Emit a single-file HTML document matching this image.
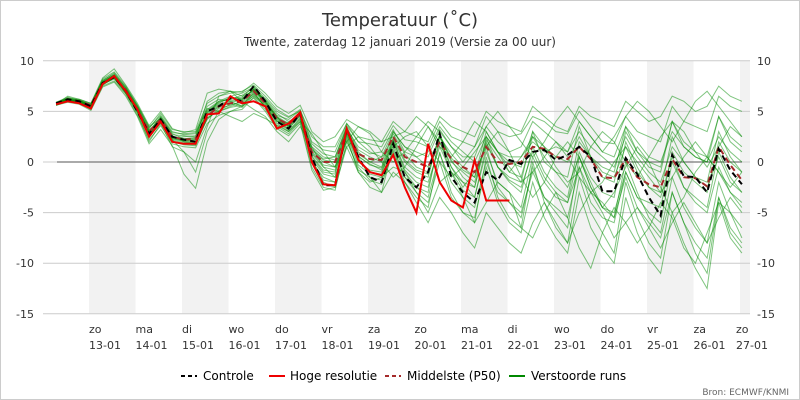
<!DOCTYPE html>
<html><head><meta charset="utf-8"><style>
body{margin:0;background:#fff}
svg{display:block;font-family:"DejaVu Sans","Liberation Sans",sans-serif}
</style></head><body>
<svg id="c" width="800" height="400">
<rect x="0.5" y="0.5" width="799" height="399" fill="#fff" stroke="#ccc"/>
<g id="bands"></g><g id="grid"></g><g id="members"></g><g id="main"></g><g id="axes"></g>
<text x="400" y="26" text-anchor="middle" font-size="18" fill="#333">Temperatuur (˚C)</text>
<text x="400" y="46" text-anchor="middle" font-size="12" fill="#333">Twente, zaterdag 12 januari 2019 (Versie za 00 uur)</text>
<g font-size="12" fill="#000">
<g><line x1="181" y1="376" x2="197" y2="376" stroke="#000" stroke-width="2" stroke-dasharray="4,3"/><text x="203" y="380">Controle</text></g>
<g><line x1="269" y1="376" x2="285" y2="376" stroke="#e00" stroke-width="2"/><text x="290" y="380">Hoge resolutie</text></g>
<g><line x1="385" y1="376" x2="401" y2="376" stroke="#a52a2a" stroke-width="2" stroke-dasharray="4,3"/><text x="407" y="380">Middelste (P50)</text></g>
<g><line x1="509" y1="376" x2="525" y2="376" stroke="#080" stroke-width="2"/><text x="531" y="380">Verstoorde runs</text></g>
</g>
<text x="789" y="395" text-anchor="end" font-size="9" fill="#666">Bron: ECMWF/KNMI</text>
</svg>
<script>
const yTicks=[10,5,0,-5,-10,-15];
const dayNames=["zo","ma","di","wo","do","vr","za","zo","ma","di","wo","do","vr","za","zo"];
const dayDates=["13-01","14-01","15-01","16-01","17-01","18-01","19-01","20-01","21-01","22-01","23-01","24-01","25-01","26-01","27-01"];
const startHour=7, stepHours=6;
const controle=[5.8,6.2,6.0,5.5,7.8,8.4,7.0,5.0,2.8,4.2,2.5,2.2,2.0,5.0,5.5,6.3,6.0,7.5,6.0,4.0,3.3,4.8,0.5,-2.3,-2.3,3.2,0.5,-1.5,-2.0,1.8,-1.5,-2.5,-1.0,2.8,-1.5,-3.0,-4.0,-1.0,-1.8,0.2,-0.2,1.0,1.2,0.2,0.7,1.5,0.5,-2.9,-2.9,0.4,-1.2,-3.5,-5.3,0.7,-1.4,-1.5,-3.0,1.3,-0.8,-2.2];
const hires=[5.7,6.0,5.8,5.3,7.7,8.5,7.0,5.2,2.5,4.0,2.0,1.8,1.8,4.7,4.8,6.5,5.8,6.0,5.5,3.3,3.8,4.9,0.0,-2.2,-2.3,3.3,0.2,-1.0,-1.3,0.7,-2.5,-5.0,1.8,-2.0,-3.8,-4.5,0.2,-3.8,-3.8,-3.8];
const p50=[5.8,6.2,6.0,5.6,7.8,8.4,7.1,5.2,3.0,4.2,2.5,2.2,2.3,4.5,5.5,5.8,6.0,7.0,5.8,4.3,3.7,4.7,1.0,0.0,0.0,3.0,0.8,0.3,0.2,2.5,0.5,0.0,-0.5,2.0,0.3,-0.5,-1.0,1.5,0.0,-0.2,0.0,1.5,1.3,0.5,0.3,1.5,0.3,-1.5,-1.6,0.3,-1.5,-2.2,-2.5,0.3,-1.5,-1.6,-2.4,1.5,-0.3,-1.8];
const m1=[5.9,6.4,6.1,5.7,8.0,8.8,7.3,5.6,3.4,4.6,3.0,2.7,2.8,5.2,6.0,6.5,6.8,7.4,6.3,5.0,4.4,5.2,2.0,1.2,1.0,3.8,2.0,1.8,1.5,3.6,2.2,2.0,1.5,4.0,2.5,2.0,1.5,4.5,3.0,2.5,2.8,4.5,4.0,3.0,2.8,5.0,3.5,2.0,1.8,4.5,3.0,2.5,2.0,5.5,4.0,3.5,3.0,6.5,5.5,5.0];
const m2=[5.6,6.0,5.8,5.2,7.5,8.0,6.7,4.6,2.2,3.6,1.8,1.5,1.4,3.8,4.6,5.0,5.2,6.4,5.2,3.5,2.8,4.0,-0.5,-2.5,-2.8,2.0,-0.5,-1.8,-2.2,1.0,-2.0,-3.5,-4.5,1.0,-3.0,-5.0,-6.0,0.5,-3.5,-5.5,-6.5,0.0,-4.0,-6.5,-8.0,-1.5,-5.0,-7.0,-9.0,-2.0,-5.5,-8.0,-9.5,-3.0,-6.0,-9.0,-11.0,-3.5,-7.0,-8.5];
const m3=[5.7,6.1,6.0,5.5,7.9,8.6,7.0,5.0,2.6,4.4,2.6,2.0,1.9,5.0,5.8,6.4,6.2,7.2,6.0,4.5,3.2,4.8,1.5,0.5,0.2,3.5,1.2,0.5,0.0,2.8,0.8,-0.5,-1.0,2.5,0.2,-1.5,-2.5,2.0,-0.5,-2.0,-3.0,1.5,-1.0,-2.5,-3.5,2.0,0.5,-1.5,-2.0,3.0,1.0,-0.5,-1.0,4.0,2.0,1.0,0.5,4.5,2.5,1.5];
const m4=[5.8,6.3,5.9,5.4,7.6,8.3,6.9,5.3,3.2,4.0,2.4,2.5,2.6,5.5,6.2,6.0,5.5,6.8,5.5,4.0,3.9,4.5,0.5,-1.0,-1.2,2.8,0.0,-0.8,-1.0,2.0,-0.5,-1.5,-2.0,1.5,-1.0,-2.8,-3.5,1.0,-2.0,-3.0,-4.5,0.5,-2.0,-3.5,-4.0,1.0,-1.5,-3.0,-3.5,2.0,-0.5,-2.5,-3.0,2.5,0.0,-1.5,-2.0,3.0,0.5,-1.0];
const m5=[5.9,6.2,6.1,5.6,8.1,8.7,7.4,5.5,3.3,4.8,3.2,3.0,3.0,5.8,6.5,6.8,7.0,7.6,6.5,5.2,4.5,5.0,1.8,0.8,0.5,3.3,1.5,0.8,1.0,3.2,1.0,0.5,1.0,3.5,2.0,1.0,0.0,2.5,1.0,0.0,-0.5,3.0,1.5,0.5,0.0,2.5,0.5,-1.0,-1.5,1.5,-1.0,-2.5,-3.5,0.5,-2.5,-4.0,-5.0,-0.5,-3.0,-4.0];
const m6=[5.6,6.0,5.9,5.4,7.7,8.2,6.8,4.8,2.0,3.8,1.5,1.0,-1.0,3.0,5.0,5.5,5.8,6.5,5.5,3.8,3.0,4.2,0.0,-1.5,-2.0,2.5,-1.0,-2.5,-3.0,1.5,-1.5,-2.5,-3.0,2.5,-0.5,-2.0,-3.5,1.5,-2.5,-4.0,-5.5,-0.5,-3.5,-5.0,-6.5,0.5,-2.5,-4.5,-5.5,0.0,-3.0,-5.5,-7.0,-1.5,-4.5,-6.5,-8.0,-2.0,-5.0,-6.5];
const m7=[5.8,6.1,6.0,5.6,7.8,8.5,7.2,5.4,3.0,4.5,2.8,2.3,2.4,6.0,6.8,7.0,6.5,7.0,6.2,4.8,4.0,4.6,1.2,0.2,0.0,3.2,1.0,0.0,-0.5,3.0,1.5,1.0,0.5,3.2,1.5,0.5,0.5,3.5,2.0,1.0,1.5,4.0,3.0,2.0,1.0,4.0,2.5,1.0,0.5,3.5,2.0,0.5,0.0,3.0,1.5,0.5,0.0,2.5,1.0,0.0];
const m8=[5.7,6.2,5.9,5.5,7.9,8.6,7.1,5.1,2.8,4.1,2.2,1.9,2.0,4.2,5.3,5.6,6.0,7.0,5.7,4.2,3.5,4.9,0.8,-0.5,-0.8,3.0,0.5,-0.2,-0.8,2.2,0.0,-1.0,-1.5,2.8,0.0,-1.0,-2.0,2.2,0.5,-1.0,-1.5,2.5,0.5,-1.0,-2.5,0.5,-2.5,-4.5,-5.0,-1.0,-3.5,-5.0,-6.0,0.0,-2.5,-3.5,-4.5,1.0,-1.5,-3.0];
const m9=[5.8,6.3,6.1,5.7,8.2,8.9,7.5,5.6,3.5,4.3,2.7,2.6,2.5,4.8,6.0,6.2,6.6,7.3,6.1,4.6,4.2,5.1,2.5,1.5,1.5,3.8,2.5,2.2,2.0,4.0,3.0,2.5,2.0,4.5,3.5,3.0,2.5,5.0,4.0,3.5,3.0,5.5,4.5,3.5,3.0,5.5,4.5,4.0,3.5,6.0,5.0,4.0,4.5,6.5,6.0,5.0,5.5,7.5,6.5,6.0];
const m10=[5.7,6.0,5.8,5.3,7.6,8.4,6.9,4.9,2.4,3.9,2.0,1.7,1.6,4.4,5.0,5.4,5.6,6.9,5.4,3.6,3.4,4.4,0.2,-1.8,-2.0,2.6,-0.3,-1.2,-1.5,1.8,-1.0,-2.5,-3.5,0.8,-2.0,-3.5,-4.5,0.0,-3.0,-4.0,-5.0,-1.0,-3.5,-4.5,-5.5,-0.5,-4.0,-5.5,-6.0,-1.0,-3.5,-4.0,-4.5,1.0,-1.0,-2.0,-3.0,2.0,0.0,-1.0];
const m11=[5.8,6.2,6.0,5.6,7.8,8.5,7.0,5.2,2.9,4.2,2.3,2.1,2.2,4.9,5.7,6.1,6.3,7.1,5.9,4.4,3.6,4.7,1.0,0.0,-0.5,3.4,0.8,0.0,0.5,3.0,1.5,0.5,-0.5,2.5,0.8,-0.5,-1.5,3.0,1.0,0.5,0.5,2.0,1.0,1.5,1.0,3.0,1.5,0.5,-0.5,2.5,0.5,-1.0,-2.0,1.5,0.0,-1.5,-2.5,0.5,-2.0,-3.0];
const m12=[5.6,6.1,5.8,5.4,7.7,8.3,6.8,5.0,2.5,3.9,2.1,1.8,1.7,4.3,5.1,5.7,5.9,6.7,5.6,4.1,3.1,4.3,0.3,-1.2,-1.5,2.2,-0.8,-1.5,-1.8,1.2,-1.5,-3.0,-4.0,0.0,-3.5,-5.0,-5.5,-0.5,-4.0,-6.0,-7.0,-2.0,-5.5,-7.5,-9.0,-3.0,-6.5,-8.5,-10.0,-3.5,-7.0,-9.5,-11.0,-5.0,-8.0,-10.5,-12.5,-4.0,-7.5,-9.0];
const m13=[5.7,6.5,6.2,5.8,8.3,9.2,7.6,5.8,3.6,5.0,3.3,2.9,3.2,6.8,7.2,7.0,6.9,7.8,6.8,5.5,4.8,5.6,3.0,2.0,2.5,4.2,3.5,3.0,2.0,2.5,3.0,4.5,3.5,1.5,0.5,2.0,4.0,3.0,1.0,-1.0,0.5,2.5,1.5,-0.5,-2.0,-1.0,1.5,3.0,2.0,0.0,-1.5,0.5,2.5,4.0,3.0,1.0,-0.5,1.5,3.5,2.5];
const m14=[5.6,5.9,5.7,5.1,7.4,7.9,6.5,4.5,1.8,3.2,1.6,-1.2,-2.6,2.0,4.2,5.0,5.5,6.3,5.0,3.3,2.6,3.8,-0.8,-2.8,-2.5,1.5,-1.0,-2.0,-1.5,-0.5,-1.0,-3.0,-5.0,-2.0,-1.0,-3.5,-6.0,-4.0,-2.0,-3.0,-6.5,-7.5,-5.0,-3.0,-5.5,-8.5,-10.5,-7.0,-4.5,-6.0,-8.0,-6.5,-4.0,-5.5,-8.5,-10.0,-7.0,-4.0,-5.0,-7.5];
const m15=[5.8,6.1,6.0,5.5,7.8,8.5,7.0,5.1,2.7,4.0,2.2,1.0,0.0,3.5,6.5,7.0,6.0,5.2,4.5,3.0,2.0,3.5,1.5,-0.5,-1.5,1.5,2.5,1.5,0.0,-1.5,-0.5,1.5,3.5,2.0,-0.5,-2.5,-1.0,1.5,3.0,1.0,-1.5,-3.5,-2.0,0.5,2.0,0.5,-2.0,-4.5,-3.0,-0.5,1.5,0.0,-2.5,-5.0,-3.5,-1.0,0.5,-1.0,-3.0,-4.5];
const m16=[5.9,6.3,6.2,5.8,8.0,8.6,7.3,5.4,3.1,4.4,2.9,2.8,2.9,5.3,5.0,4.5,4.0,4.8,4.3,3.6,3.0,4.0,2.8,1.0,-0.5,2.0,3.5,2.8,1.0,0.0,1.0,2.5,4.0,3.0,1.5,0.0,1.5,3.5,5.0,3.5,2.0,0.5,2.0,4.0,5.5,4.0,2.5,1.0,2.5,4.5,6.0,5.0,3.5,2.0,4.0,6.0,7.0,5.5,4.0,2.5];
const m17=[5.7,6.0,5.9,5.4,7.7,8.3,6.9,5.0,2.6,4.1,2.3,2.0,2.1,4.6,5.5,5.8,5.4,6.6,5.5,4.0,3.6,4.6,0.0,-2.0,-2.5,3.0,0.5,-1.5,-3.0,-1.0,-2.0,-4.0,-6.0,-3.5,-5.0,-7.0,-8.5,-5.0,-6.5,-8.0,-9.0,-6.0,-4.0,-6.0,-8.0,-5.0,-3.0,-5.0,-7.5,-6.0,-4.5,-6.5,-8.5,-6.0,-4.0,-6.0,-8.0,-5.5,-3.5,-5.0];
const m18=[5.8,6.2,6.1,5.6,7.9,8.6,7.1,5.3,3.0,4.3,2.5,2.3,2.4,5.1,5.9,6.3,6.4,7.5,6.0,4.5,3.8,4.8,1.3,0.3,0.5,3.6,2.0,1.0,0.5,1.5,2.5,3.0,1.5,0.0,-1.5,-0.5,1.0,2.5,1.0,-0.5,-2.0,-1.0,0.5,2.0,0.5,-1.5,-3.0,-2.0,0.0,1.5,0.0,-1.5,-3.0,-1.5,0.5,2.0,0.5,-1.0,-2.5,-1.0];
const m19=[5.7,6.1,5.9,5.5,7.8,8.4,7.0,5.1,2.8,4.2,2.4,2.1,2.2,4.6,5.4,5.9,6.1,7.2,5.8,4.3,3.5,4.6,0.6,-0.8,-1.0,2.8,0.2,-1.0,-1.2,2.2,-0.8,-2.0,-2.5,2.0,-1.0,-2.0,-2.5,2.5,-0.5,-1.5,-2.0,3.0,0.0,-1.0,-1.5,3.5,0.5,-0.5,-1.0,3.5,1.0,0.0,-0.5,4.0,1.5,0.5,0.0,4.5,2.0,1.0];
const m20=[5.8,6.2,6.0,5.6,7.8,8.5,7.1,5.2,2.9,4.2,2.4,2.2,2.3,4.7,5.6,6.0,6.2,7.2,5.9,4.4,3.7,4.8,0.9,-0.3,-0.5,3.1,0.6,-0.3,-0.6,2.4,0.2,-0.8,-1.2,2.6,0.4,-0.8,-1.5,1.8,-0.5,-1.8,-2.5,1.0,-1.5,-3.0,-4.0,-0.5,-3.0,-4.0,-5.5,-1.5,-4.5,-6.0,-7.5,-3.0,-6.0,-8.0,-9.5,-3.5,-6.5,-8.0];
const members=[m1,m2,m3,m4,m5,m6,m7,m8,m9,m10,m11,m12,m13,m14,m15,m16,m17,m18,m19,m20];

const NS="http://www.w3.org/2000/svg";
const X0=42.5, DAYW=46.5, PL=43, PR=750;
const xH=h=>X0+h*DAYW/24;
const xi=i=>xH(startHour+i*stepHours);
const yV=v=>162-v*10.12;
function mk(tag,attrs,parent){const e=document.createElementNS(NS,tag);for(const k in attrs)e.setAttribute(k,attrs[k]);parent.appendChild(e);return e;}
const bands=document.getElementById('bands'),grid=document.getElementById('grid'),axes=document.getElementById('axes');
for(let d=0;d<dayDates.length;d+=2){
  const x=X0+(d+1)*DAYW, w=Math.min(DAYW,PR-x);
  const r=mk('rect',{x:x,y:yV(10),width:w,height:yV(-15)-yV(10),fill:'#f2f2f2'},bands);
  
  
}
yTicks.forEach(t=>{
  const l=mk('line',{x1:PL,x2:PR,y1:yV(t),y2:yV(t),stroke:'#ccc','stroke-width':1},grid);
  
  
  const a=mk('text',{x:34,y:yV(t)+4,'text-anchor':'end','font-size':11,fill:'#333'},axes);a.textContent=t;
  
  
  const b=mk('text',{x:757,y:yV(t)+4,'font-size':11,fill:'#333'},axes);b.textContent=t;
  
  
});
const zl=mk('line',{x1:57,x2:PR-8,y1:yV(0),y2:yV(0),stroke:'#777','stroke-width':1.3},grid);


dayDates.forEach((d,i)=>{
  const x=X0+(i+1)*DAYW;
  const t=mk('text',{x:x,y:333,'font-size':11,fill:'#333'},axes);
  
  
  const s1=mk('tspan',{x:x+(i===dayDates.length-1?-4:0),dy:0},t);s1.textContent=dayNames[i];
  const s2=mk('tspan',{x:x+(i===dayDates.length-1?-4:0),dy:16},t);s2.textContent=d;
});
function path(arr){return arr.map((v,i)=>(i?'L':'M')+xi(i).toFixed(1)+','+yV(v).toFixed(1)).join('');}
const mg=document.getElementById('members');
members.forEach(m=>{
  const p=mk('path',{d:path(m),fill:'none',stroke:'rgba(0,140,0,0.5)','stroke-width':1},mg);
  
  
});
const mn=document.getElementById('main');
const pp=mk('path',{d:path(p50),fill:'none',stroke:'#a52a2a','stroke-width':2,'stroke-dasharray':'6,4'},mn);


const cp=mk('path',{d:path(controle),fill:'none',stroke:'#000','stroke-width':2,'stroke-dasharray':'6,4'},mn);


const hp=mk('path',{d:path(hires),fill:'none',stroke:'#e00','stroke-width':2},mn);


</script>
</body></html>
